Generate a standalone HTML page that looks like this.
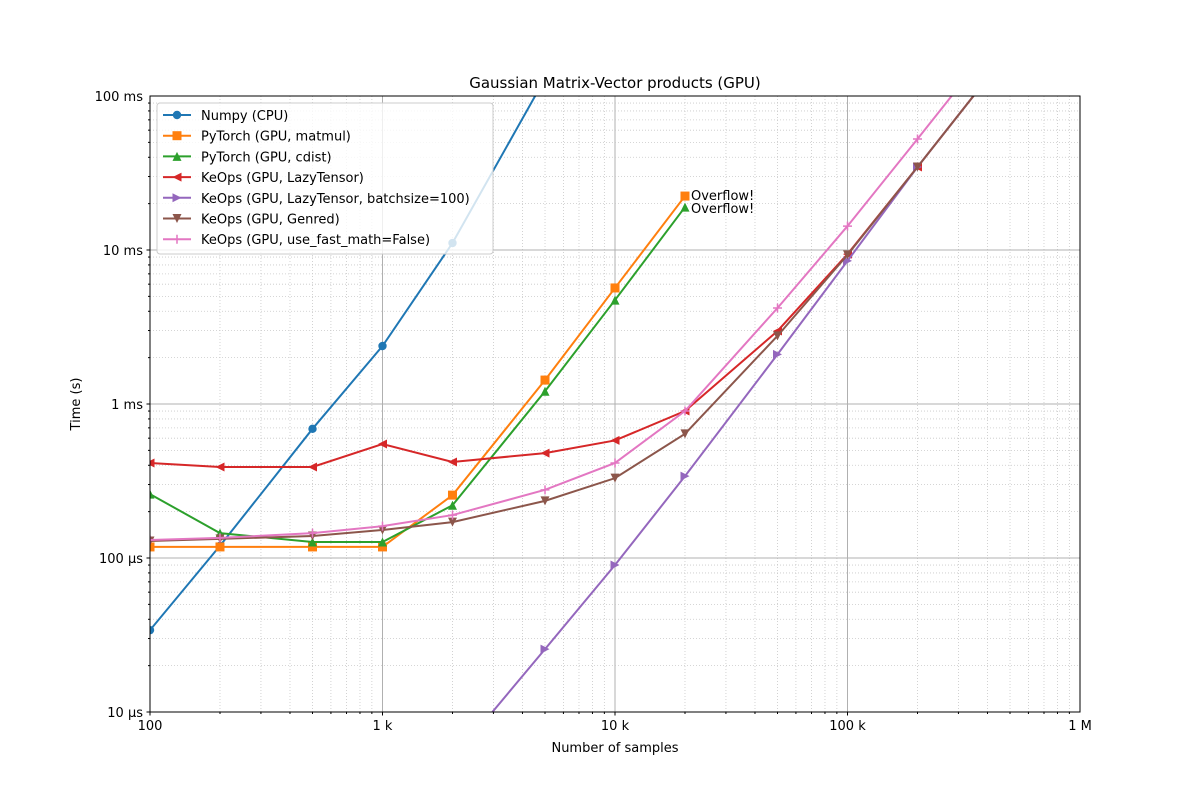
<!DOCTYPE html>
<html><head><meta charset="utf-8"><style>
body{margin:0;background:#fff;font-family:"Liberation Sans","DejaVu Sans",sans-serif}
svg text{font-family:"DejaVu Sans","Liberation Sans",sans-serif}
</style></head><body>
<svg id="chart" width="1200" height="800" viewBox="0 0 1200 800" xmlns="http://www.w3.org/2000/svg">
<defs><clipPath id="pc"><rect x="150" y="96" width="930" height="616"/></clipPath></defs>
<rect width="1200" height="800" fill="#fff"/>
<g id="grid"></g>
<g id="series" clip-path="url(#pc)"></g>
<rect x="150" y="96" width="930" height="616" fill="none" stroke="#000" stroke-width="1"/>
<g id="axes"></g>
<text x="615" y="88" text-anchor="middle" font-size="15">Gaussian Matrix-Vector products (GPU)</text>
<text x="615" y="752" text-anchor="middle" font-size="13">Number of samples</text>
<text x="80" y="404" text-anchor="middle" font-size="13" transform="rotate(-90 80 404)">Time (s)</text>
<text x="691" y="200" font-size="13">Overflow!</text>
<text x="691" y="213" font-size="13">Overflow!</text>
<g id="legend"></g>
</svg>
<script>
const NS="http://www.w3.org/2000/svg";
const seriesNames=["Numpy (CPU)","PyTorch (GPU, matmul)","PyTorch (GPU, cdist)","KeOps (GPU, LazyTensor)","KeOps (GPU, LazyTensor, batchsize=100)","KeOps (GPU, Genred)","KeOps (GPU, use_fast_math=False)"];
const seriesColors=["#1f77b4","#ff7f0e","#2ca02c","#d62728","#9467bd","#8c564b","#e377c2"];
const seriesMarkers=["o","s","^","<",">","v","+"];
const xNumpy=[100,200,500,1000,2000,5000];
const yNumpy=[3.4e-5,1.2e-4,6.9e-4,2.38e-3,1.11e-2,0.13];
const xMatmul=[100,200,500,1000,2000,5000,10000,20000];
const yMatmul=[1.18e-4,1.18e-4,1.18e-4,1.18e-4,2.56e-4,1.43e-3,5.67e-3,2.24e-2];
const xCdist=[100,200,500,1000,2000,5000,10000,20000];
const yCdist=[2.6e-4,1.45e-4,1.27e-4,1.27e-4,2.2e-4,1.21e-3,4.73e-3,1.9e-2];
const xLazy=[100,200,500,1000,2000,5000,10000,20000,50000,100000,200000,500000];
const yLazy=[4.14e-4,3.9e-4,3.9e-4,5.5e-4,4.2e-4,4.8e-4,5.8e-4,9e-4,2.98e-3,9.4e-3,3.46e-2,0.2];
const xBatch=[2000,5000,10000,20000,50000,100000,200000,500000];
const yBatch=[4.9e-6,2.56e-5,9e-5,3.4e-4,2.1e-3,8.5e-3,3.46e-2,0.2];
const xGenred=[100,200,500,1000,2000,5000,10000,20000,50000,100000,200000,500000];
const yGenred=[1.29e-4,1.33e-4,1.39e-4,1.52e-4,1.71e-4,2.35e-4,3.3e-4,6.4e-4,2.77e-3,9.3e-3,3.46e-2,0.2];
const xFast=[100,200,500,1000,2000,5000,10000,20000,50000,100000,200000,500000];
const yFast=[1.31e-4,1.35e-4,1.45e-4,1.61e-4,1.9e-4,2.77e-4,4.14e-4,9e-4,4.2e-3,1.43e-2,5.26e-2,0.3];
const xTickVals=[100,1000,10000,100000,1000000];
const xTickLabels=["100","1 k","10 k","100 k","1 M"];
const yTickVals=[1e-5,1e-4,1e-3,1e-2,1e-1];
const yTickLabels=["10 µs","100 µs","1 ms","10 ms","100 ms"];
const allX=[xNumpy,xMatmul,xCdist,xLazy,xBatch,xGenred,xFast];
const allY=[yNumpy,yMatmul,yCdist,yLazy,yBatch,yGenred,yFast];

const X0=150,X1=1080,Y0=712,Y1=96;
function sx(v){return X0+(Math.log10(v)-2)/4*(X1-X0);}
function sy(v){return Y0-(Math.log10(v)+5)/4*(Y0-Y1);}
function el(tag,attrs,parent){const e=document.createElementNS(NS,tag);for(const k in attrs)e.setAttribute(k,attrs[k]);parent.appendChild(e);return e;}
const grid=document.getElementById('grid'),axes=document.getElementById('axes');
for(let d=2;d<6;d++)for(let m=1;m<10;m++){const v=m*Math.pow(10,d);const x=sx(v);
 const l=el('line',{x1:x,x2:x,y1:Y1,y2:Y0,stroke:m==1?'#b0b0b0':'#c8c8c8','stroke-width':m==1?1:0.8,'stroke-dasharray':m==1?'':'1,2'},grid);
 
 
 const t=el('line',{x1:x,x2:x,y1:Y0,y2:Y0+(m==1?3.5:2),stroke:'#000'},axes);
 
 }
for(let d=-5;d<-1;d++)for(let m=1;m<10;m++){const v=m*Math.pow(10,d);const y=sy(v);
 const l=el('line',{x1:X0,x2:X1,y1:y,y2:y,stroke:m==1?'#b0b0b0':'#c8c8c8','stroke-width':m==1?1:0.8,'stroke-dasharray':m==1?'':'1,2'},grid);
 
 
 const t=el('line',{x1:X0-(m==1?3.5:2),x2:X0,y1:y,y2:y,stroke:'#000'},axes);
 
 }
xTickVals.forEach((v,i)=>{const t=el('text',{x:sx(v),y:Y0+18,'text-anchor':'middle','font-size':13},axes);t.textContent=xTickLabels[i];
 
 });
yTickVals.forEach((v,i)=>{const t=el('text',{x:X0-7,y:sy(v)+5,'text-anchor':'end','font-size':13},axes);t.textContent=yTickLabels[i];
 
 });
function marker(type,x,y,c,parent){const s=4.5;let e;
 if(type=='o')e=el('circle',{cx:x,cy:y,r:4.2,fill:c},parent);
 else if(type=='s')e=el('rect',{x:x-s,y:y-s,width:2*s,height:2*s,fill:c},parent);
 else if(type=='+')e=el('path',{d:`M${x-s} ${y}H${x+s}M${x} ${y-s}V${y+s}`,stroke:c,'stroke-width':1.5},parent);
 else{let p;if(type=='^')p=[[x,y-s],[x-s,y+s],[x+s,y+s]];if(type=='v')p=[[x,y+s],[x-s,y-s],[x+s,y-s]];if(type=='<')p=[[x-s,y],[x+s,y-s],[x+s,y+s]];if(type=='>')p=[[x+s,y],[x-s,y-s],[x-s,y+s]];
  e=el('polygon',{points:p.map(q=>q.join(',')).join(' '),fill:c},parent);}
 return e;}
const sg=document.getElementById('series');
allX.forEach((xs,i)=>{const g=el('g',{},sg);
 
 
 const pl=el('polyline',{points:xs.map((v,j)=>sx(v)+','+sy(allY[i][j])).join(' '),fill:'none',stroke:seriesColors[i],'stroke-width':2},g);
 
 
 xs.forEach((v,j)=>{const m=marker(seriesMarkers[i],sx(v),sy(allY[i][j]),seriesColors[i],g);
  
  });});
const lg=document.getElementById('legend');
const box=el('rect',{x:157,y:103,width:336,height:151,fill:'#fff','fill-opacity':0.8,stroke:'#ccc',rx:3},lg);


seriesNames.forEach((n,i)=>{const y=115+i*20.7;const g=el('g',{},lg);
 
 
 el('line',{x1:163,x2:191,y1:y,y2:y,stroke:seriesColors[i],'stroke-width':2},g);
 marker(seriesMarkers[i],177,y,seriesColors[i],g);
 const t=el('text',{x:201,y:y+5,'font-size':13},g);t.textContent=n;});
</script>
</body></html>
